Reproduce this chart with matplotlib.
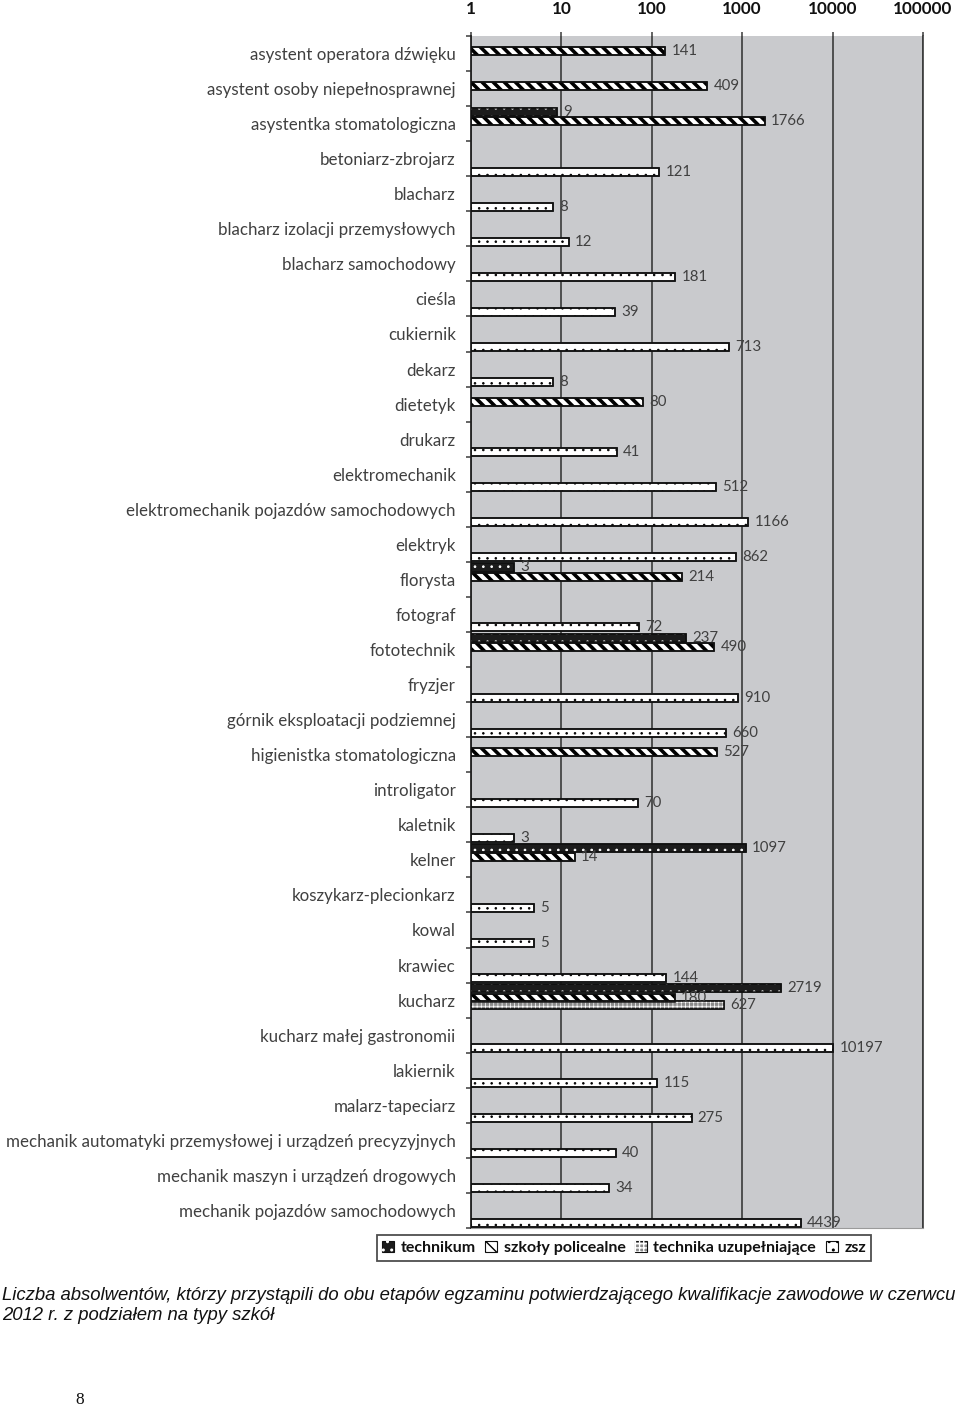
import numpy as np
import matplotlib
matplotlib.use("Agg")
import matplotlib.pyplot as plt
from matplotlib.patches import Patch
from matplotlib.ticker import NullLocator

categories = [
    "asystent operatora dźwięku",
    "asystent osoby niepełnosprawnej",
    "asystentka stomatologiczna",
    "betoniarz-zbrojarz",
    "blacharz",
    "blacharz izolacji przemysłowych",
    "blacharz samochodowy",
    "cieśla",
    "cukiernik",
    "dekarz",
    "dietetyk",
    "drukarz",
    "elektromechanik",
    "elektromechanik pojazdów samochodowych",
    "elektryk",
    "florysta",
    "fotograf",
    "fototechnik",
    "fryzjer",
    "górnik eksploatacji podziemnej",
    "higienistka stomatologiczna",
    "introligator",
    "kaletnik",
    "kelner",
    "koszykarz-plecionkarz",
    "kowal",
    "krawiec",
    "kucharz",
    "kucharz małej gastronomii",
    "lakiernik",
    "malarz-tapeciarz",
    "mechanik automatyki przemysłowej i urządzeń precyzyjnych",
    "mechanik maszyn i urządzeń drogowych",
    "mechanik pojazdów samochodowych",
]

# 0 = no graduates in that school type
technikum = [0, 0, 9, 0, 0, 0, 0, 0, 0, 0, 0, 0, 0, 0, 0, 3, 0, 237, 0, 0,
             0, 0, 0, 1097, 0, 0, 0, 2719, 0, 0, 0, 0, 0, 0]
szkoly_policealne = [141, 409, 1766, 0, 0, 0, 0, 0, 0, 0, 80, 0, 0, 0, 0, 214, 0, 490, 0, 0,
                     527, 0, 0, 14, 0, 0, 0, 180, 0, 0, 0, 0, 0, 0]
technika_uzup = [0, 0, 0, 0, 0, 0, 0, 0, 0, 0, 0, 0, 0, 0, 0, 0, 0, 0, 0, 0,
                 0, 0, 0, 0, 0, 0, 0, 627, 0, 0, 0, 0, 0, 0]
zsz = [0, 0, 0, 121, 8, 12, 181, 39, 713, 8, 0, 41, 512, 1166, 862, 0, 72, 0, 910, 660,
       0, 70, 3, 0, 5, 5, 144, 0, 10197, 115, 275, 40, 34, 4439]

series_names = ["technikum", "szkoły policealne", "technika uzupełniające", "zsz"]
x_ticks = [1, 10, 100, 1000, 10000, 100000]

BG = "#c9cacd"
GRID = "#3a3a3a"
TXT = "#404040"
FONT = ["Lato", "DejaVu Sans"]

# face, hatch, hatch colour, hatch linewidth, slot offset inside the band
styles = [
    ("#1c1c1c", "..", "white", 0.7, -0.34),
    ("white", "\\\\\\", "black", 2.6, -0.07),
    ("#8a8a8a", "++++", "white", 0.5, 0.13),
    ("white", "..", "black", 0.6, 0.37),
]
bar_h = 0.23


def set_hlw(artists, lw):
    for a in artists:
        if hasattr(a, "set_hatch_linewidth"):
            a.set_hatch_linewidth(lw)
        else:
            a._hatch_linewidth = lw


fig = plt.figure(figsize=(9.6, 14.1), dpi=100)
ax = fig.add_axes([471 / 960, 1 - 1228 / 1410, 452 / 960, 1192 / 1410])
ax.set_facecolor(BG)
ax.set_xscale("log")
ax.set_xlim(1, 1e5)
ax.set_ylim(33.5, -0.5)

y = np.arange(len(categories))
for vals, (face, hatch, hcol, hlw, off) in zip(
        [technikum, szkoly_policealne, technika_uzup, zsz], styles):
    vals = np.array(vals, dtype=float)
    m = vals > 0
    yy = y[m] + off
    vv = vals[m]
    ax.barh(yy, vv - 1, left=1, height=bar_h, color=face,
            edgecolor="#111111", linewidth=1.1, zorder=3)
    with plt.rc_context({"hatch.linewidth": hlw}):
        hb = ax.barh(yy, vv - 1, left=1, height=bar_h, fill=False, hatch=hatch,
                     edgecolor=hcol, linewidth=0, zorder=4)
    set_hlw(hb, hlw)
    ax.barh(yy, vv - 1, left=1, height=bar_h, fill=False,
            edgecolor="#111111", linewidth=1.1, zorder=5)
    for yi, v in zip(yy, vv):
        ax.annotate(f"{int(v)}", xy=(v, yi), xytext=(4.5, 0),
                    textcoords="offset points", va="center", ha="left",
                    fontsize=10.8, color=TXT, family=FONT, zorder=6)

# axes styling
ax.xaxis.tick_top()
ax.set_xticks(x_ticks)
ax.set_xticklabels([str(t) for t in x_ticks], fontsize=12.3, fontweight="bold",
                   family=FONT, color="#111111")
ax.xaxis.set_minor_locator(NullLocator())
ax.tick_params(axis="x", which="major", direction="out", length=3,
               width=1.1, color=GRID, pad=11)
ax.grid(axis="x", which="major", color=GRID, linewidth=1.2, zorder=1)
ax.set_axisbelow(True)

ax.set_yticks(y)
ax.set_yticklabels(categories, fontsize=12.2, color=TXT, family=FONT)
ax.set_yticks(np.arange(-0.5, 34, 1), minor=True)
ax.tick_params(axis="y", which="major", length=0, pad=11)
ax.tick_params(axis="y", which="minor", length=3.5, width=1.1,
               direction="out", color=GRID)

ax.spines["top"].set_visible(False)
ax.spines["left"].set_color("#222222")
ax.spines["left"].set_linewidth(1.3)
ax.spines["right"].set_color(GRID)
ax.spines["right"].set_linewidth(1.2)
ax.spines["bottom"].set_color("#9a9a9a")
ax.spines["bottom"].set_linewidth(0.8)

# legend
handles = []
for face, hatch, hcol, hlw, off in styles:
    hp = Patch(fill=False, hatch=hatch, edgecolor=hcol, linewidth=0)
    set_hlw([hp], min(hlw, 1.5))
    handles.append((Patch(facecolor=face, edgecolor="#111111", linewidth=0.8), hp))
leg = fig.legend(handles, series_names, loc="upper center",
                 bbox_to_anchor=(624 / 960, 1 - 1227 / 1410), ncol=4,
                 frameon=True, fancybox=False, handlelength=0.75,
                 handleheight=0.75, handletextpad=0.4, columnspacing=0.6,
                 borderpad=0.35, prop={"family": FONT, "weight": "bold", "size": 11.5})
leg.get_frame().set_edgecolor("#222222")
leg.get_frame().set_linewidth(1.3)
for t in leg.get_texts():
    t.set_color("#111111")

fig.text(2 / 960, 1 - 1295 / 1410,
         "Liczba absolwentów, którzy przystąpili do obu etapów egzaminu potwierdzającego kwalifikacje zawodowe w czerwcu",
         fontsize=13.3, style="italic", family="Liberation Sans",
         va="center", ha="left", color="#111111")
fig.text(2 / 960, 1 - 1316 / 1410, "2012 r. z podziałem na typy szkół",
         fontsize=13.3, style="italic", family="Liberation Sans",
         va="center", ha="left", color="#111111")
fig.text(80 / 960, 1 - 1400 / 1410, "8", fontsize=12.5, family="Liberation Serif",
         va="center", ha="center", color="#111111")

fig.savefig("out.png", dpi=100, facecolor="white")
